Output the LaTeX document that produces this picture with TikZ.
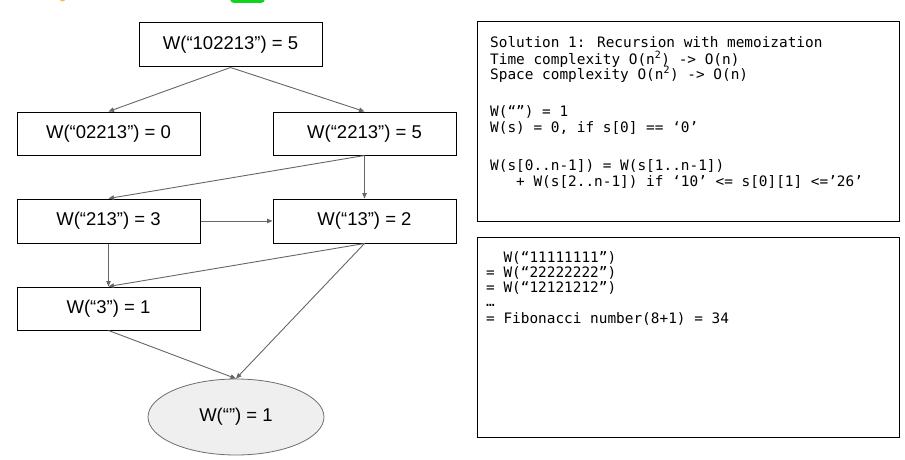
\documentclass[tikz,border=0pt]{standalone}
\usepackage{fontspec}
\setmainfont{Liberation Sans}
\newfontfamily\codefont{DejaVu Sans Mono}
\usetikzlibrary{arrows.meta,shapes.geometric}
\definecolor{edgegray}{HTML}{666666}
\definecolor{ellfill}{HTML}{EFEFEF}
\definecolor{elldraw}{HTML}{6E6E6E}
\definecolor{fragyellow}{HTML}{F6BE3C}
\definecolor{fraggreen}{HTML}{10D41E}
\begin{document}
\begin{tikzpicture}[x=1pt,y=-1pt,
  wbox/.style={draw=black, line width=1pt, minimum width=183pt, minimum height=43pt, inner sep=0pt, font=\fontsize{18.5}{22}\selectfont},
  link/.style={draw=edgegray, line width=0.9pt, -{Triangle[length=5.5pt,width=4.5pt]}},
  codeline/.style={anchor=base west, inner sep=0pt, font=\codefont\fontsize{14.4}{16}\selectfont},
  panel/.style={draw=black, line width=1.3pt, anchor=north west, minimum width=422pt, minimum height=200pt, inner sep=0pt}]
\useasboundingbox (0,0) rectangle (905,460);
\begin{scope}
  \clip (0,0) rectangle (905,460);
  \fill[fragyellow] (62.5,-9) ellipse (5 and 10.5);
  \fill[fraggreen, rounded corners=4pt] (230,-20) rectangle (265,3);
\end{scope}

% tree nodes
\node[wbox, minimum height=44pt] (n0) at (230.5,45) {W(“102213”) = 5};
\node[wbox] (n1) at (108.5,133.5) {W(“02213”) = 0};
\node[wbox] (n2) at (364.5,133.5) {W(“2213”) = 5};
\node[wbox, minimum height=44pt] (n3) at (108.5,221) {W(“213”) = 3};
\node[wbox, minimum height=44pt] (n4) at (364.5,221) {W(“13”) = 2};
\node[wbox] (n5) at (108.5,308.5) {W(“3”) = 1};
\node[ellipse, draw=elldraw, line width=0.8pt, fill=ellfill, minimum width=176pt, minimum height=76pt, inner sep=0pt, font=\fontsize{18.5}{22}\selectfont] (n6) at (236,417) {W(“”) = 1};

% connectors
\draw[link] (n0.south) -- (n1.north);
\draw[link] (n0.south) -- (n2.north);
\draw[link] (n2.south) -- (n3.north);
\draw[link] (n2.south) -- (n4.north);
\draw[link] (n3.east) -- (n4.west);
\draw[link] (n3.south) -- (n5.north);
\draw[link] (n4.south) -- (n5.north);
\draw[link] (n4.south) -- (n6.north);
\draw[link] (n5.south) -- (n6.north);

% right panels
\node[panel] (p1) at (477,21) {};
\node[panel] (p2) at (477,237) {};

\node[codeline] (a1) at (490,48) {Solution 1: Recursion with memoization};
\node[codeline] (a2) at (490,64) {Time complexity O(n\textsuperscript{2}) -> O(n)};
\node[codeline] (a3) at (490,79) {Space complexity O(n\textsuperscript{2}) -> O(n)};
\node[codeline] (a4) at (490,116) {W(“”) = 1};
\node[codeline] (a5) at (490,132) {W(s) = 0, if s[0] == ‘0’};
\node[codeline] (a6) at (490,170) {W(s[0..n-1]) = W(s[1..n-1])};
\node[codeline] (a7) at (490,186) {\ \ \ + W(s[2..n-1]) if ‘10’ <= s[0][1] <=’26’};

\node[codeline] (b1) at (486,262) {\ \ W(“11111111”)};
\node[codeline] (b2) at (486,277.3) {= W(“22222222”)};
\node[codeline] (b3) at (486,292.6) {= W(“12121212”)};
\node[codeline] (b4) at (486,306) {…};
\node[codeline] (b5) at (486,323.2) {= Fibonacci number(8+1) = 34};
\end{tikzpicture}
\end{document}
